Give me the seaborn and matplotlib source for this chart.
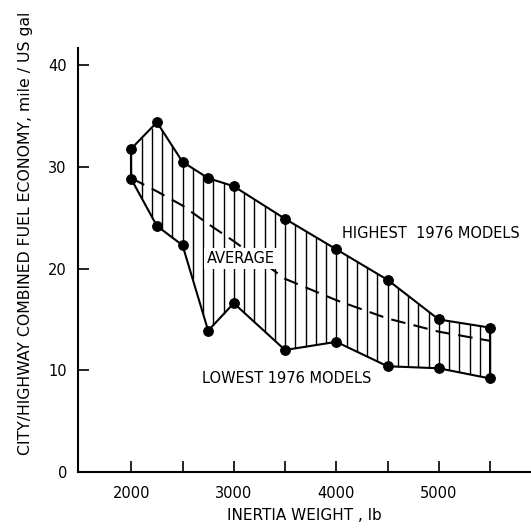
import numpy as np
import pandas as pd
import matplotlib
matplotlib.use("Agg")
import matplotlib.pyplot as plt
import seaborn as sns

weights = [2000, 2250, 2500, 2750, 3000, 3500, 4000, 4500, 5000, 5500]
highest = [31.8, 34.4, 30.5, 28.9, 28.1, 24.9, 21.9, 18.9, 15.0, 14.2]
lowest = [28.8, 24.2, 22.3, 13.9, 16.6, 12.0, 12.8, 10.4, 10.2, 9.2]
average = [28.9, 27.6, 26.2, 24.4, 22.7, 19.0, 16.9, 15.1, 13.8, 12.9]
x_ticks = [2000, 2500, 3000, 3500, 4000, 4500, 5000, 5500]
x_labels = ["2000", "", "3000", "", "4000", "", "5000", ""]
y_ticks = [0, 10, 20, 30, 40]

sns.set_style("white")
plt.rcParams["font.family"] = ["DejaVu Sans"]
plt.rcParams["text.color"] = "black"
plt.rcParams["axes.labelcolor"] = "black"

df = pd.DataFrame({"w": weights, "hi": highest, "lo": lowest, "avg": average})

fig = plt.figure(figsize=(5.31, 5.28), dpi=100)
ax = fig.add_axes([78 / 531, (528 - 472) / 528, (531 - 78) / 531, (472 - 48) / 528])

# hatching: vertical lines every 100 lb between the two envelopes
hx = np.arange(weights[0], weights[-1] + 1, 100)
ax.vlines(hx, np.interp(hx, weights, lowest), np.interp(hx, weights, highest),
          color="black", lw=1.0, zorder=1)

sns.lineplot(data=df, x="w", y="hi", ax=ax, color="black", lw=1.5, marker="o",
             markersize=7, markeredgecolor="black", zorder=3)
sns.lineplot(data=df, x="w", y="lo", ax=ax, color="black", lw=1.5, marker="o",
             markersize=7, markeredgecolor="black", zorder=3)
sns.lineplot(data=df, x="w", y="avg", ax=ax, color="black", lw=1.5,
             dashes=[(7, 4)], style=[0] * len(df), legend=False, zorder=2)
# vertical edges at ends
ax.vlines([weights[0], weights[-1]], [lowest[0], lowest[-1]], [highest[0], highest[-1]],
          color="black", lw=1.5, zorder=2)

ax.set_xlim(1480, 5900)
ax.set_ylim(0, 41.7)
ax.set_xticks(x_ticks)
ax.set_xticklabels(x_labels)
ax.set_yticks(y_ticks)
ax.tick_params(axis="both", direction="in", length=8, width=1.2, labelsize=10.5,
               colors="black", bottom=True, left=True, pad=8)
ax.tick_params(axis="x", pad=10)
for s in ["top", "right"]:
    ax.spines[s].set_visible(False)
for s in ["left", "bottom"]:
    ax.spines[s].set_color("black")
    ax.spines[s].set_linewidth(1.5)

ax.set_xlabel("INERTIA WEIGHT , lb", fontsize=11, labelpad=5)
ax.set_ylabel("CITY/HIGHWAY COMBINED FUEL ECONOMY, mile / US gal", fontsize=11.3)
ax.yaxis.set_label_coords(-0.10, 0.563)

ax.text(4052, 23.5, "HIGHEST  1976 MODELS", fontsize=10.5, va="center", ha="left")
ax.text(2735, 21.0, "AVERAGE", fontsize=10.5, va="center", ha="left",
        bbox=dict(facecolor="white", edgecolor="none", pad=2), zorder=4)
ax.text(2686, 9.2, "LOWEST 1976 MODELS", fontsize=10.5, va="center", ha="left")

fig.savefig("out.png", dpi=100)
